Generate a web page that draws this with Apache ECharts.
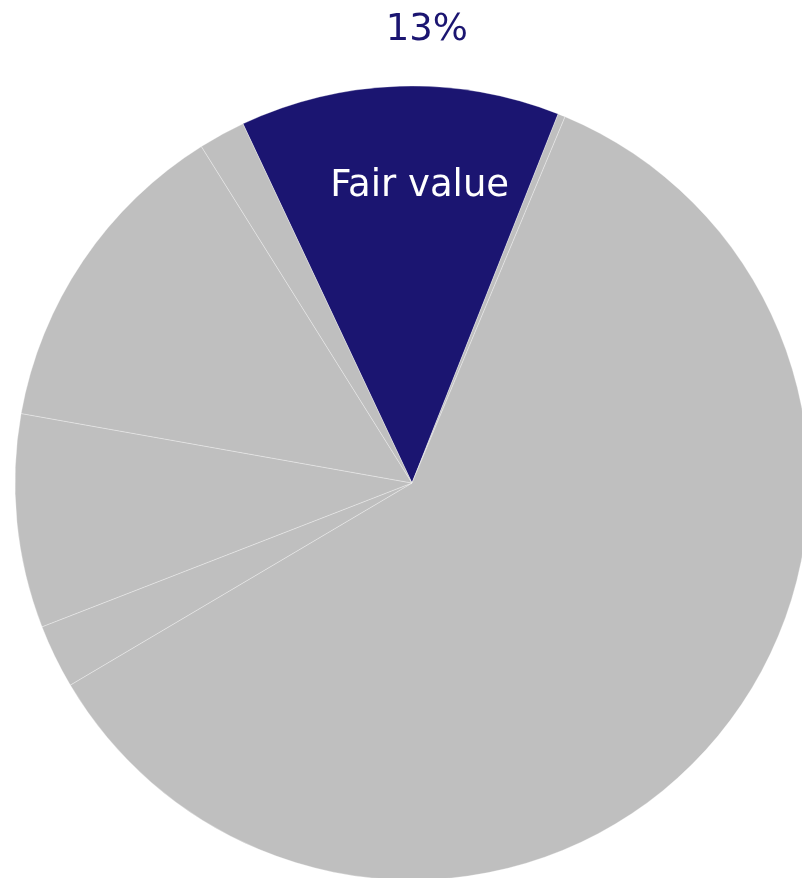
<!DOCTYPE html>
<html>
<head>
<meta charset="utf-8">
<style>
  html, body { margin: 0; padding: 0; background: #ffffff; }
  #chart { width: 802px; height: 878px; }
</style>
<script src="https://cdn.jsdelivr.net/npm/echarts@6/dist/echarts.min.js"></script>
</head>
<body>
<div id="chart"></div>
<script>
// Slice names and shares (percent of total), in clockwise order from the highlighted slice
const categories = ['Fair value', 'Other A', 'Other B', 'Other C', 'Other D', 'Other E', 'Other F'];
const shares = [13, 0.3, 60.2, 2.6, 8.7, 13.3, 1.9];
const highlighted = 'Fair value';

const NAVY = '#1b1571';
const GREY = '#bfbfbf';
const FONT = "'DejaVu Sans', Verdana, sans-serif";

const pieData = categories.map((name, i) => ({
  name: name,
  value: shares[i],
  itemStyle: { color: name === highlighted ? NAVY : GREY }
}));

const common = {
  type: 'pie',
  center: [412, 483],
  radius: [0, 397],
  startAngle: 115.2,
  clockwise: true,
  avoidLabelOverlap: false,
  silent: true,
  animation: false
};

const chart = echarts.init(document.getElementById('chart'), null, { renderer: 'canvas' });
chart.setOption({
  backgroundColor: '#ffffff',
  series: [
    Object.assign({}, common, {
      name: 'slices',
      itemStyle: { borderColor: 'rgba(255,255,255,0.5)', borderWidth: 0.6 },
      label: {
        show: true,
        position: 'inside',
        color: '#ffffff',
        fontFamily: FONT,
        fontSize: 37,
        formatter: p => (p.name === highlighted ? p.name : '')
      },
      labelLayout: p => (p.text ? { dy: -95, dx: 14 } : {}),
      data: pieData
    }),
    Object.assign({}, common, {
      name: 'percent',
      itemStyle: { color: 'rgba(0,0,0,0)' },
      label: {
        show: true,
        position: 'outside',
        color: NAVY,
        fontFamily: FONT,
        fontSize: 37,
        formatter: p => (p.name === highlighted ? Math.round(p.value) + '%' : '')
      },
      labelLayout: p => (p.text ? { dx: 74, dy: -36 } : {}),
      labelLine: { show: false, length: 20, length2: 0 },
      data: categories.map((name, i) => ({ name: name, value: shares[i] }))
    })
  ]
});
</script>
</body>
</html>
